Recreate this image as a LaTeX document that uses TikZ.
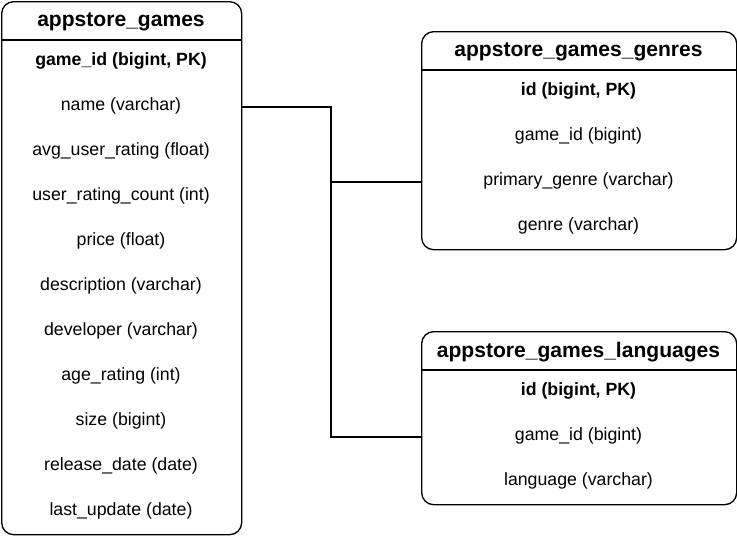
\documentclass[tikz,border=0pt]{standalone}
\usepackage{fontspec}
\setmainfont{Liberation Sans}
\begin{document}
\begin{tikzpicture}[x=0.75pt,y=-0.75pt,
  tbl/.style={draw=black,line width=1pt,rounded corners=9pt,inner sep=0pt,anchor=north west},
  ttl/.style={font=\bfseries\fontsize{15.8}{18}\selectfont,inner sep=0pt},
  pk/.style={font=\bfseries\fontsize{13.3}{15}\selectfont,inner sep=0pt},
  fld/.style={font=\fontsize{13.3}{15}\selectfont,inner sep=0pt},
  sep/.style={draw=black,line width=1pt},
  conn/.style={draw=black,line width=1pt}]
\useasboundingbox (0,0) rectangle (737,540);
% appstore_games
\node[tbl,minimum width=240*0.75pt,minimum height=533*0.75pt] (g) at (1,1) {};
\draw[sep] (1,40) -- (241,40);
\node[ttl] (gt) at (121,22) {appstore\_games};
\node[pk] (g1) at (121,61) {game\_id (bigint, PK)};
\node[fld] (g2) at (121,106) {name (varchar)};
\node[fld] (g3) at (121,151) {avg\_user\_rating (float)};
\node[fld] (g4) at (121,196) {user\_rating\_count (int)};
\node[fld] (g5) at (121,241) {price (float)};
\node[fld] (g6) at (121,286) {description (varchar)};
\node[fld] (g7) at (121,331) {developer (varchar)};
\node[fld] (g8) at (121,376) {age\_rating (int)};
\node[fld] (g9) at (121,421) {size (bigint)};
\node[fld] (g10) at (121,466) {release\_date (date)};
\node[fld] (g11) at (121,511) {last\_update (date)};
% appstore_games_genres
\node[tbl,minimum width=315*0.75pt,minimum height=218*0.75pt] (ge) at (421,31) {};
\draw[sep] (421,70) -- (736,70);
\node[ttl] (get) at (578.5,52) {appstore\_games\_genres};
\node[pk] (ge1) at (578.5,91) {id (bigint, PK)};
\node[fld] (ge2) at (578.5,136) {game\_id (bigint)};
\node[fld] (ge3) at (578.5,181) {primary\_genre (varchar)};
\node[fld] (ge4) at (578.5,226) {genre (varchar)};
% appstore_games_languages
\node[tbl,minimum width=315*0.75pt,minimum height=173*0.75pt] (la) at (421,331) {};
\draw[sep] (421,370) -- (736,370);
\node[ttl] (lat) at (578.5,352) {appstore\_games\_languages};
\node[pk] (la1) at (578.5,391) {id (bigint, PK)};
\node[fld] (la2) at (578.5,436) {game\_id (bigint)};
\node[fld] (la3) at (578.5,481) {language (varchar)};
% connectors
\coordinate (j) at (331,107);
\coordinate (jg) at (421,182);
\coordinate (jl) at (421,437);
\draw[conn] (g.east |- j) -- (j) |- (ge.west |- jg);
\draw[conn] (g.east |- j) -- (j) |- (la.west |- jl);
\end{tikzpicture}
\end{document}
